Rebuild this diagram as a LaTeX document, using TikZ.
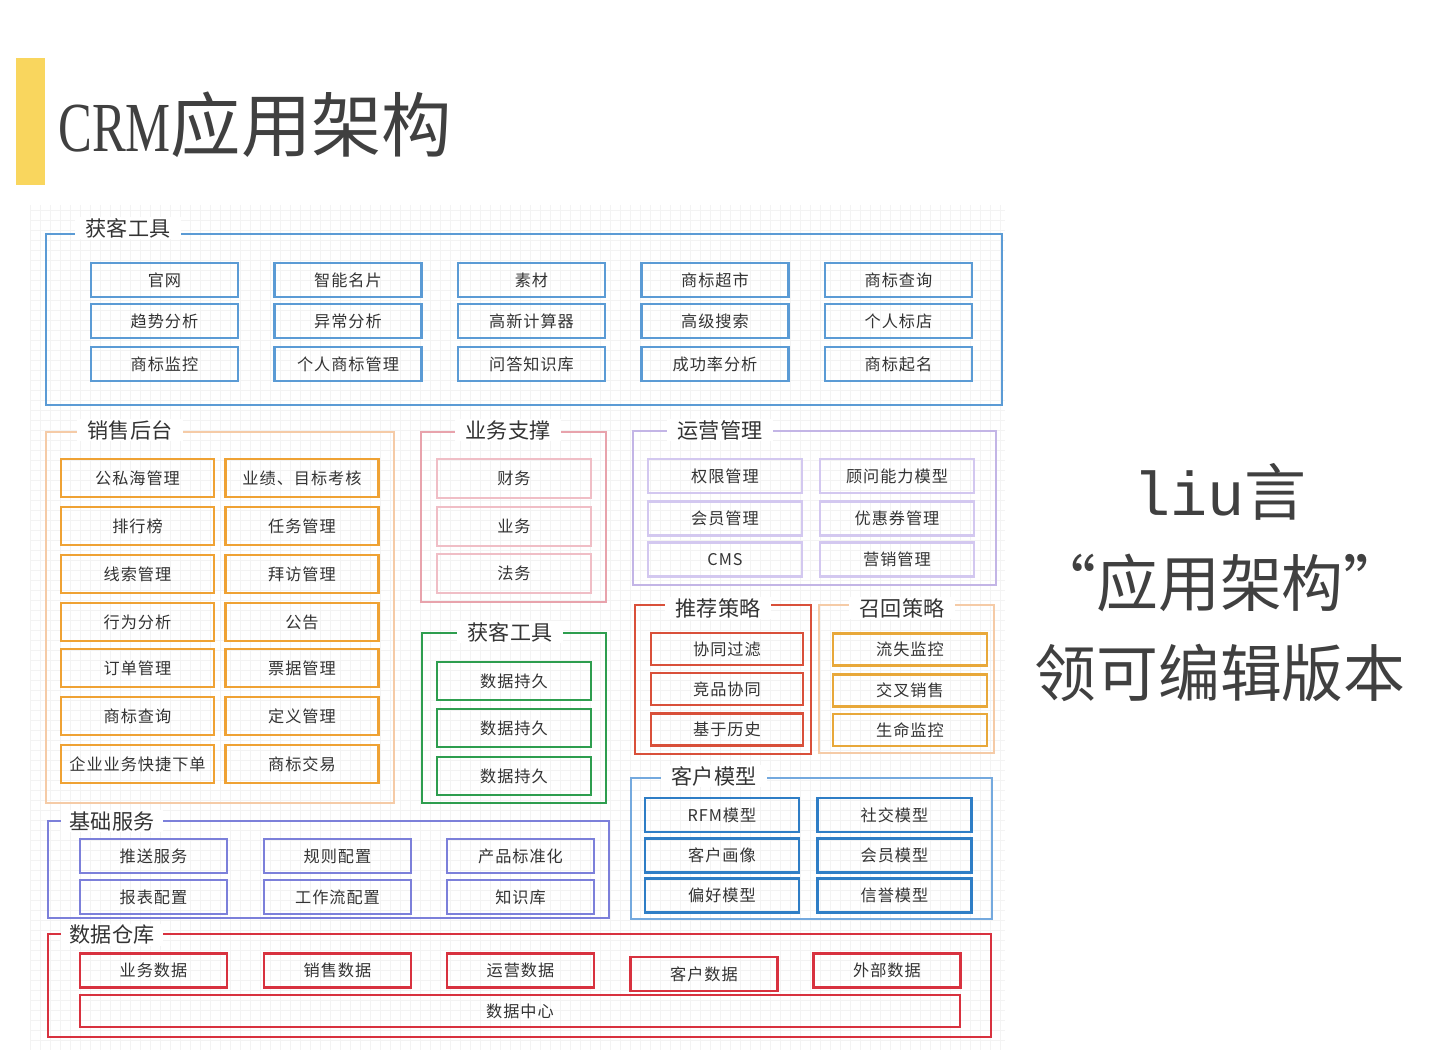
\documentclass[tikz,border=0pt]{standalone}
\usepackage{fontspec}
\newfontfamily\cjk{Noto Sans CJK SC}
\newfontfamily\cjkitem[LetterSpace=6]{Noto Sans CJK SC}
\newfontfamily\crmfont[FakeStretch=0.72]{Liberation Serif}
\newfontfamily\liufont{Liberation Mono}
\definecolor{titlegray}{HTML}{404040}
\definecolor{textgray}{HTML}{333333}
\definecolor{baryellow}{HTML}{F9D65E}
\definecolor{gridgray}{HTML}{F3F3F3}
\definecolor{topblue}{HTML}{5B9BD5}
\definecolor{salespeach}{HTML}{F5CBA7}
\definecolor{salesorange}{HTML}{EFA234}
\definecolor{supportpink}{HTML}{E8A3AC}
\definecolor{supportlight}{HTML}{F0BEC6}
\definecolor{toolgreen}{HTML}{2E9E4F}
\definecolor{opslavender}{HTML}{C3B5E6}
\definecolor{opslight}{HTML}{D3C8F0}
\definecolor{recred}{HTML}{D9503A}
\definecolor{recallorange}{HTML}{E8A83A}
\definecolor{custblue}{HTML}{74A9DE}
\definecolor{custdeep}{HTML}{2F7EC6}
\definecolor{basepurple}{HTML}{7C80DA}
\definecolor{datared}{HTML}{D8323F}
\begin{document}
\begin{tikzpicture}[x=0.025cm, y=-0.025cm,
		frame/.style={line width=1.4pt},
		grouplabel/.style={fill=white, inner xsep=8pt, inner ysep=1pt, text=textgray, font=\cjk\fontsize{15}{18}\selectfont},
		itembox/.style={draw, line width=1.6pt, inner sep=0pt, text=textgray, font=\cjkitem\fontsize{11.5}{13}\selectfont},
		topitem/.style={itembox, draw=topblue, minimum width=3.675cm, minimum height=0.85cm},
		salesitem/.style={itembox, draw=salesorange, minimum width=3.825cm, minimum height=0.95cm},
		supportitem/.style={itembox, draw=supportlight, minimum width=3.85cm, minimum height=0.97cm},
		toolitem/.style={itembox, draw=toolgreen, minimum width=3.85cm, minimum height=0.95cm},
		opsitem/.style={itembox, draw=opslight, minimum width=3.85cm, minimum height=0.85cm},
		recitem/.style={itembox, draw=recred, minimum width=3.8cm, minimum height=0.8cm},
		recallitem/.style={itembox, draw=recallorange, minimum width=3.85cm, minimum height=0.8cm},
		custitem/.style={itembox, draw=custdeep, minimum width=3.85cm, minimum height=0.85cm},
		baseitem/.style={itembox, draw=basepurple, minimum width=3.675cm, minimum height=0.85cm},
		dataitem/.style={itembox, draw=datared, minimum width=3.675cm, minimum height=0.85cm}]
		\useasboundingbox (0,0) rectangle (1440,1050);
		\fill[white] (0,0) rectangle (1440,1050);
		\draw[gridgray, line width=0.4pt, step=0.25cm] (30,205) grid (1005,1050);

		% title
		\fill[baryellow] (16,58) rectangle (45,185);
		\node[anchor=west, inner sep=0pt, text=titlegray, font=\fontsize{50}{60}\selectfont] (title) at (58,125) {\crmfont CRM\cjk 应用架构};

		% right side note
		\node[text=titlegray, font=\cjk\fontsize{44}{60}\selectfont] (note1) at (1220,492) {\liufont liu\cjk 言};
		\node[text=titlegray, font=\cjk\fontsize{44}{60}\selectfont] (note2) at (1220,583) {“应用架构”};
		\node[text=titlegray, font=\cjk\fontsize{44}{60}\selectfont] (note3) at (1220,673) {领可编辑版本};

		% frames
		\draw[frame, topblue] (46,234) rectangle (1002,405);
		\draw[frame, salespeach] (46,432) rectangle (394,803);
		\draw[frame, supportpink] (421,432) rectangle (606,602);
		\draw[frame, toolgreen] (422,633) rectangle (606,803);
		\draw[frame, opslavender] (633,431) rectangle (996,585);
		\draw[frame, recred, line width=2pt] (635,605) rectangle (811,754);
		\draw[frame, salespeach] (819,605) rectangle (994,753);
		\draw[frame, custblue] (631,778) rectangle (992,919);
		\draw[frame, basepurple] (48,821) rectangle (609,918);
		\draw[frame, datared] (48,934) rectangle (991,1037);

		% frame labels
		\node[grouplabel] (toolsA) at (128,228) {获客工具};
		\node[grouplabel] (sales) at (130,430) {销售后台};
		\node[grouplabel] (support) at (508,430) {业务支撑};
		\node[grouplabel] (toolsB) at (510,632) {获客工具};
		\node[grouplabel] (ops) at (720,430) {运营管理};
		\node[grouplabel] (rec) at (718,608) {推荐策略};
		\node[grouplabel] (recall) at (902,608) {召回策略};
		\node[grouplabel] (cust) at (714,776) {客户模型};
		\node[grouplabel, inner xsep=6pt] (base) at (112,821) {基础服务};
		\node[grouplabel, inner xsep=6pt] (data) at (112,935) {数据仓库};

		% 获客工具 items
		\node[topitem] (site) at (164.5,280) {官网};
		\node[topitem] (card) at (348,280) {智能名片};
		\node[topitem] (material) at (531.5,280) {素材};
		\node[topitem] (market) at (715,280) {商标超市};
		\node[topitem] (lookup) at (898.5,280) {商标查询};
		\node[topitem] (trend) at (164.5,321) {趋势分析};
		\node[topitem] (anomaly) at (348,321) {异常分析};
		\node[topitem] (calc) at (531.5,321) {高新计算器};
		\node[topitem] (search) at (715,321) {高级搜索};
		\node[topitem] (shop) at (898.5,321) {个人标店};
		\node[topitem] (watch) at (164.5,364) {商标监控};
		\node[topitem] (ownmark) at (348,364) {个人商标管理};
		\node[topitem] (qa) at (531.5,364) {问答知识库};
		\node[topitem] (rate) at (715,364) {成功率分析};
		\node[topitem] (naming) at (898.5,364) {商标起名};

		% 销售后台 items
		\node[salesitem] (pool) at (137.5,478) {公私海管理};
		\node[salesitem] (kpi) at (302,478) {业绩、目标考核};
		\node[salesitem] (rank) at (137.5,526) {排行榜};
		\node[salesitem] (task) at (302,526) {任务管理};
		\node[salesitem] (lead) at (137.5,574) {线索管理};
		\node[salesitem] (visit) at (302,574) {拜访管理};
		\node[salesitem] (behave) at (137.5,622) {行为分析};
		\node[salesitem] (notice) at (302,622) {公告};
		\node[salesitem] (order) at (137.5,668) {订单管理};
		\node[salesitem] (bill) at (302,668) {票据管理};
		\node[salesitem] (query) at (137.5,716) {商标查询};
		\node[salesitem] (define) at (302,716) {定义管理};
		\node[salesitem] (quick) at (137.5,764) {企业业务快捷下单};
		\node[salesitem] (trade) at (302,764) {商标交易};

		% 业务支撑 items
		\node[supportitem] (finance) at (514,478.5) {财务};
		\node[supportitem] (business) at (514,526.5) {业务};
		\node[supportitem] (legal) at (514,573.5) {法务};

		% 获客工具 (green) items
		\node[toolitem] (keepA) at (514,681) {数据持久};
		\node[toolitem] (keepB) at (514,728) {数据持久};
		\node[toolitem] (keepC) at (514,776) {数据持久};

		% 运营管理 items
		\node[opsitem] (rights) at (725,476) {权限管理};
		\node[opsitem] (ability) at (897,476) {顾问能力模型};
		\node[opsitem] (member) at (725,518.5) {会员管理};
		\node[opsitem] (coupon) at (897,518.5) {优惠券管理};
		\node[opsitem] (cms) at (725,559.5) {CMS};
		\node[opsitem] (promo) at (897,559.5) {营销管理};

		% 推荐策略 items
		\node[recitem] (filter) at (727,649) {协同过滤};
		\node[recitem] (rival) at (727,689) {竞品协同};
		\node[recitem] (history) at (727,729.5) {基于历史};

		% 召回策略 items
		\node[recallitem] (churn) at (910,649.5) {流失监控};
		\node[recallitem] (cross) at (910,690.5) {交叉销售};
		\node[recallitem] (life) at (910,730) {生命监控};

		% 客户模型 items
		\node[custitem] (rfm) at (722,815) {RFM模型};
		\node[custitem] (social) at (894.5,815) {社交模型};
		\node[custitem] (portrait) at (722,855.5) {客户画像};
		\node[custitem] (vip) at (894.5,855.5) {会员模型};
		\node[custitem] (prefer) at (722,895.5) {偏好模型};
		\node[custitem] (credit) at (894.5,895.5) {信誉模型};

		% 基础服务 items
		\node[baseitem] (push) at (153.5,856) {推送服务};
		\node[baseitem] (rule) at (337.5,856) {规则配置};
		\node[baseitem] (standard) at (520.5,856) {产品标准化};
		\node[baseitem] (report) at (153.5,897) {报表配置};
		\node[baseitem] (flow) at (337.5,897) {工作流配置};
		\node[baseitem] (wiki) at (520.5,897) {知识库};

		% 数据仓库 items
		\node[dataitem] (bizdata) at (153.5,970.5) {业务数据};
		\node[dataitem] (salesdata) at (337.5,970.5) {销售数据};
		\node[dataitem] (opsdata) at (520.5,970.5) {运营数据};
		\node[dataitem] (custdata) at (704,974) {客户数据};
		\node[dataitem] (extdata) at (887,970.5) {外部数据};
		\node[dataitem, minimum width=22cm, minimum height=0.8cm] (center) at (520,1011) {数据中心};
	\end{tikzpicture}
\end{document}
